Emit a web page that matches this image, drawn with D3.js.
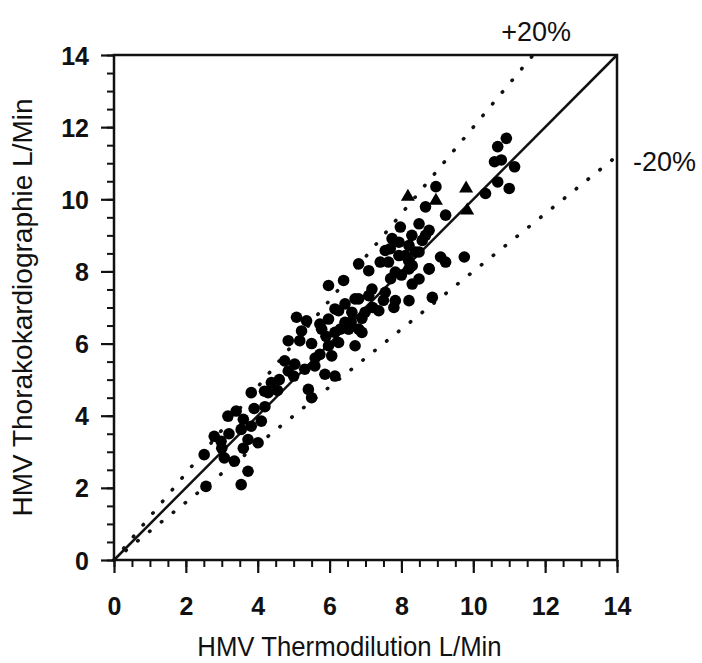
<!DOCTYPE html>
<html>
<head>
<meta charset="utf-8">
<script src="https://cdn.jsdelivr.net/npm/d3@7"></script>
<style>
  body { margin: 0; background: #fff; }
  text { font-family: "Liberation Sans", Arial, sans-serif; fill: #111; }
</style>
</head>
<body>
<div id="chart"></div>
<script>
// Thermodilution (x) vs Thorakokardiographie (y), L/Min
const circlesX = [
  10.92, 10.68, 10.59, 10.78, 11.15, 10.68, 11.0, 10.34, 9.23,
  8.96, 8.67, 7.97, 8.49, 8.77, 7.74, 8.21, 8.58, 7.55, 7.93, 8.39, 7.64, 8.3, 9.09, 9.23, 9.75, 8.77,
  6.81, 7.09, 7.41, 7.69, 7.93, 8.29, 8.67, 8.11, 8.49, 7.83, 8.21, 8.77, 8.49, 8.3, 7.18, 7.55,
  6.81, 7.09, 7.83, 8.21, 8.86, 7.79, 6.25, 6.62, 6.99, 7.37, 5.97, 6.43, 6.81, 5.78, 5.97, 6.39,
  5.08, 5.36, 5.22, 4.85, 5.17, 5.73, 6.15, 6.43, 6.71, 6.15, 5.97, 6.25, 5.73, 6.06, 5.59, 5.87,
  6.53, 6.9, 6.71, 6.15, 4.75, 5.03, 5.31, 4.85, 4.38, 4.19, 5.41, 5.5,
  3.82, 4.29, 3.17, 3.4, 3.54, 3.82, 4.1, 2.79, 2.98, 3.73, 4.01, 2.51, 3.07, 3.35, 3.73, 2.56, 3.54, 4.2,
  5.5, 5.6, 5.9, 6.3, 6.6, 6.9, 7.2, 7.5, 7.7, 8.0, 8.2, 4.6, 4.55, 5.0, 3.9, 3.6, 3.2, 3.0, 3.6];
const circlesY = [
  11.69, 11.46, 11.04, 11.09, 10.9, 10.48, 10.3, 10.16, 9.56,
  10.35, 9.79, 9.23, 9.32, 9.14, 8.91, 8.72, 8.86, 8.58, 8.44, 8.54, 8.26, 8.16, 8.4, 8.26, 8.4, 8.07,
  8.21, 8.02, 8.26, 8.63, 8.81, 9.0, 9.0, 8.44, 8.54, 7.98, 8.07, 8.07, 7.79, 7.65, 7.51, 7.42,
  7.24, 7.33, 7.19, 7.19, 7.28, 7.0, 6.91, 6.87, 6.87, 6.91, 6.68, 6.59, 6.4, 6.4, 7.61, 7.75,
  6.73, 6.63, 6.35, 6.08, 6.08, 6.54, 6.96, 7.1, 7.24, 6.31, 5.94, 6.03, 5.7, 5.66, 5.38, 5.15,
  6.4, 6.31, 5.94, 5.1, 5.52, 5.43, 5.29, 5.24, 4.92, 4.68, 4.73, 4.5,
  4.64, 4.64, 3.99, 4.13, 3.62, 3.71, 3.85, 3.43, 3.29, 3.34, 3.25, 2.92, 2.83, 2.74, 2.46, 2.04, 2.09, 4.25,
  6.0, 5.6, 6.2, 6.4, 6.6, 6.7, 7.0, 7.2, 7.8, 7.9, 8.3, 5.0, 4.7, 5.1, 4.2, 3.9, 3.5, 3.1, 3.1];
const trianglesX = [8.18, 8.96, 9.8, 9.83];
const trianglesY = [10.07, 9.96, 10.3, 9.69];

const xTicks = [0, 2, 4, 6, 8, 10, 12, 14];
const yTicks = [0, 2, 4, 6, 8, 10, 12, 14];
const bandFactors = [1.2, 0.8];
const bandLabels = ["+20%", "-20%"];

const W = 702, H = 663;
const margin = {left: 114, top: 55, right: 85, bottom: 103};
const tickFont = 25;

const svg = d3.select("#chart").append("svg")
  .attr("width", W).attr("height", H);

const x = d3.scaleLinear().domain([0, 14]).range([margin.left, W - margin.right]);
const y = d3.scaleLinear().domain([0, 14]).range([H - margin.bottom, margin.top]);

const minor = d3.range(0, 14.01, 0.5);

// minor + major ticks, outward
svg.append("g")
  .attr("transform", `translate(0,${y(0)})`)
  .call(d3.axisBottom(x).tickValues(minor).tickSize(7).tickFormat(""))
  .call(g => g.select(".domain").remove())
  .call(g => g.selectAll("line").attr("stroke", "#111").attr("stroke-width", 2));
svg.append("g")
  .attr("transform", `translate(0,${y(0)})`)
  .call(d3.axisBottom(x).tickValues(xTicks).tickSize(13))
  .call(g => g.select(".domain").remove())
  .call(g => g.selectAll("line").attr("stroke", "#111").attr("stroke-width", 2.2))
  .call(g => g.selectAll("text")
    .attr("font-size", tickFont).attr("font-weight", "bold").attr("fill", "#111")
    .attr("y", 0).attr("dy", null)
    .attr("transform", "translate(0,55)"));

svg.append("g")
  .attr("transform", `translate(${x(0)},0)`)
  .call(d3.axisLeft(y).tickValues(minor).tickSize(7).tickFormat(""))
  .call(g => g.select(".domain").remove())
  .call(g => g.selectAll("line").attr("stroke", "#111").attr("stroke-width", 2));
svg.append("g")
  .attr("transform", `translate(${x(0)},0)`)
  .call(d3.axisLeft(y).tickValues(yTicks).tickSize(13))
  .call(g => g.select(".domain").remove())
  .call(g => g.selectAll("line").attr("stroke", "#111").attr("stroke-width", 2.2))
  .call(g => g.selectAll("text")
    .attr("font-size", tickFont).attr("font-weight", "bold").attr("fill", "#111")
    .attr("x", 0).attr("dy", null).attr("y", 0)
    .attr("transform", "translate(-25,9)"));

// frame
svg.append("rect")
  .attr("x", x(0)).attr("y", y(14))
  .attr("width", x(14) - x(0)).attr("height", y(0) - y(14))
  .attr("fill", "none").attr("stroke", "#111").attr("stroke-width", 2.5);

// identity line
svg.append("line")
  .attr("x1", x(0)).attr("y1", y(0)).attr("x2", x(14)).attr("y2", y(14))
  .attr("stroke", "#111").attr("stroke-width", 2.5);

// +/-20% dotted lines
bandFactors.forEach(f => {
  const xEnd = Math.min(14, 14 / f);
  svg.append("line")
    .attr("x1", x(0)).attr("y1", y(0))
    .attr("x2", x(xEnd)).attr("y2", y(xEnd * f))
    .attr("stroke", "#111").attr("stroke-width", 3.6)
    .attr("stroke-linecap", "round")
    .attr("stroke-dasharray", "0.5,14.7");
});

svg.append("text").attr("x", x(11.75)).attr("y", 41)
  .attr("text-anchor", "middle").attr("font-size", 27).text(bandLabels[0]);
svg.append("text").attr("x", x(14) + 16).attr("y", 171)
  .attr("text-anchor", "start").attr("font-size", 27).text(bandLabels[1]);

// data points
const circles = circlesX.map((v, i) => [v, circlesY[i]]);
const triangles = trianglesX.map((v, i) => [v, trianglesY[i]]);

svg.append("g").selectAll("circle")
  .data(circles)
  .enter()
  .append("circle")
  .attr("cx", d => x(d[0]))
  .attr("cy", d => y(d[1]))
  .attr("r", 5.8)
  .attr("fill", "#000");

svg.append("g").selectAll("path")
  .data(triangles)
  .enter()
  .append("path")
  .attr("d", d3.symbol().type(d3.symbolTriangle).size(85))
  .attr("transform", d => `translate(${x(d[0])},${y(d[1])})`)
  .attr("fill", "#000");

// axis titles
svg.append("text")
  .attr("transform", `translate(${(x(0) + x(14)) / 2 - 16},656) scale(0.92,1)`)
  .attr("text-anchor", "middle").attr("font-size", 28)
  .text("HMV Thermodilution L/Min");
svg.append("text")
  .attr("transform", `translate(32,${(y(0) + y(14)) / 2}) rotate(-90)`)
  .attr("text-anchor", "middle").attr("font-size", 28)
  .text("HMV Thorakokardiographie L/Min");
</script>
</body>
</html>
